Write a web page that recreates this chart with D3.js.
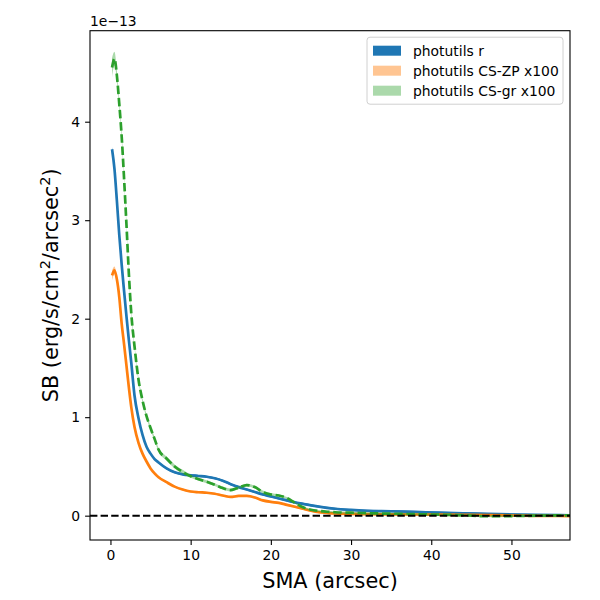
<!DOCTYPE html>
<html>
<head>
<meta charset="utf-8">
<script src="https://cdn.jsdelivr.net/npm/d3@7"></script>
<style>
  body { margin: 0; background: #fff; }
  text { font-family: "DejaVu Sans", sans-serif; }
</style>
</head>
<body>
<div id="chart"></div>
<script>
// SMA grid (arcsec) and surface brightness profiles, units of 1e-13
var sma = [0.2, 0.5, 0.8, 1.1, 1.4, 1.7, 2.0, 2.3, 2.6, 3.0, 3.5, 4.0, 4.5, 5.0, 5.5,
  6, 7, 8, 9, 10, 11, 12, 13, 14, 15, 16, 17, 18, 19, 20, 21, 22, 23, 24, 25, 26,
  27, 28, 30, 32, 35, 38, 41, 44, 47, 50, 53, 58];

var sbR = [3.72, 3.52, 3.20, 2.85, 2.55, 2.28, 2.02, 1.78, 1.55, 1.22, 0.99, 0.82, 0.70, 0.63, 0.575,
  0.54, 0.48, 0.44, 0.42, 0.41, 0.403, 0.395, 0.38, 0.355, 0.32, 0.29, 0.265, 0.24, 0.215, 0.195,
  0.175, 0.155, 0.135, 0.12, 0.105, 0.092, 0.08, 0.07, 0.058, 0.05, 0.045, 0.038, 0.03, 0.024,
  0.018, 0.012, 0.008, 0.004];
var errR = [0.02, 0.02, 0.02, 0.02, 0.02, 0.02, 0.01, 0.01, 0.01, 0.01, 0.01, 0.01, 0.01, 0.01, 0.01,
  0.01, 0.01, 0.01, 0.01, 0.01, 0.01, 0.01, 0.01, 0.01, 0.01, 0.01, 0.01, 0.01, 0.01, 0.01,
  0.01, 0.01, 0.01, 0.01, 0.01, 0.01, 0.01, 0.01, 0.01, 0.01, 0.01, 0.01, 0.01, 0.01,
  0.01, 0.01, 0.01, 0.01];

var sbZP = [2.44, 2.49, 2.40, 2.22, 1.95, 1.74, 1.52, 1.30, 1.10, 0.90, 0.74, 0.63, 0.55, 0.48, 0.43,
  0.39, 0.34, 0.295, 0.265, 0.245, 0.238, 0.233, 0.223, 0.205, 0.19, 0.20, 0.20, 0.185, 0.155, 0.14,
  0.13, 0.11, 0.09, 0.07, 0.05, 0.035, 0.028, 0.022, 0.018, 0.015, 0.013, 0.012, 0.01, 0.008,
  0.006, 0.002, -0.002, -0.004];
var errZP = [0.05, 0.04, 0.03, 0.03, 0.02, 0.02, 0.02, 0.02, 0.02, 0.015, 0.015, 0.01, 0.01, 0.01, 0.01,
  0.01, 0.01, 0.01, 0.01, 0.01, 0.01, 0.01, 0.01, 0.01, 0.01, 0.01, 0.01, 0.01, 0.01, 0.01,
  0.01, 0.01, 0.01, 0.01, 0.01, 0.01, 0.01, 0.01, 0.01, 0.01, 0.01, 0.01, 0.01, 0.01,
  0.01, 0.01, 0.01, 0.01];

var sbGR = [4.55, 4.64, 4.47, 4.18, 3.85, 3.42, 2.95, 2.45, 2.05, 1.72, 1.38, 1.17, 1.01, 0.89, 0.78,
  0.67, 0.58, 0.50, 0.445, 0.40, 0.37, 0.345, 0.315, 0.28, 0.26, 0.285, 0.31, 0.29, 0.24, 0.215,
  0.205, 0.18, 0.13, 0.085, 0.06, 0.048, 0.04, 0.035, 0.03, 0.025, 0.02, 0.015, 0.01, 0.004,
  -0.006, -0.004, 0.0, 0.005];
var errGR = [0.10, 0.07, 0.05, 0.04, 0.04, 0.03, 0.03, 0.03, 0.03, 0.02, 0.02, 0.02, 0.02, 0.02, 0.02,
  0.02, 0.02, 0.02, 0.02, 0.015, 0.015, 0.015, 0.015, 0.015, 0.015, 0.015, 0.015, 0.015, 0.015, 0.015,
  0.01, 0.01, 0.01, 0.01, 0.01, 0.01, 0.01, 0.01, 0.01, 0.01, 0.01, 0.01, 0.01, 0.01,
  0.01, 0.01, 0.01, 0.01];

var xTicks = [0, 10, 20, 30, 40, 50];
var yTicks = [0, 1, 2, 3, 4];
var legendLabels = ["photutils r", "photutils CS-ZP x100", "photutils CS-gr x100"];

var svgWidth = 600;
var svgHeight = 600;
var margin = { top: 30.7, right: 30, bottom: 60, left: 90 };
var width = svgWidth - margin.left - margin.right;
var height = svgHeight - margin.top - margin.bottom;

var svg = d3.select("#chart").append("svg")
  .attr("width", svgWidth)
  .attr("height", svgHeight);

var chartGroup = svg.append("g")
  .attr("transform", `translate(${margin.left}, ${margin.top})`);

var xScale = d3.scaleLinear().domain([-2.55, 57.3]).range([0, width]);
var yScale = d3.scaleLinear().domain([-0.247, 4.924]).range([height, 0]);

svg.append("defs").append("clipPath").attr("id", "clip")
  .append("rect").attr("width", width).attr("height", height);

var plotArea = chartGroup.append("g").attr("clip-path", "url(#clip)");

var series = [
  { vals: sbR, err: errR, color: "#1f77b4", fillOpacity: 1, dash: null },
  { vals: sbZP, err: errZP, color: "#ff7f0e", fillOpacity: 0.45, dash: null },
  { vals: sbGR, err: errGR, color: "#2ca02c", fillOpacity: 0.4, dash: "8.5,3.7" }
];

series.forEach(function(s) {
  var pts = sma.map((x, i) => ({ x: x, y: s.vals[i], e: s.err[i] }));

  var band = d3.area()
    .x(d => xScale(d.x))
    .y0(d => yScale(d.y - d.e))
    .y1(d => yScale(d.y + d.e))
    .curve(d3.curveMonotoneX);

  var line = d3.line()
    .x(d => xScale(d.x))
    .y(d => yScale(d.y))
    .curve(d3.curveMonotoneX);

  plotArea.append("path")
    .datum(pts)
    .attr("d", band)
    .attr("fill", s.color)
    .attr("fill-opacity", s.fillOpacity);

  plotArea.append("path")
    .datum(pts)
    .attr("d", line)
    .attr("fill", "none")
    .attr("stroke", s.color)
    .attr("stroke-width", 2.7)
    .attr("stroke-dasharray", s.dash);
});

// zero reference line
plotArea.append("line")
  .attr("x1", 0).attr("x2", width)
  .attr("y1", yScale(0)).attr("y2", yScale(0))
  .attr("stroke", "#000")
  .attr("stroke-width", 2)
  .attr("stroke-dasharray", "7.4,3.2");

// axes
var bottomAxis = d3.axisBottom(xScale).tickValues(xTicks).tickSize(4.9).tickPadding(4.9)
  .tickFormat(d3.format("d"));
var leftAxis = d3.axisLeft(yScale).tickValues(yTicks).tickSize(4.9).tickPadding(4.9)
  .tickFormat(d3.format("d"));

var xAxis = chartGroup.append("g")
  .attr("transform", `translate(0, ${height})`)
  .call(bottomAxis);
var yAxis = chartGroup.append("g").call(leftAxis);

[xAxis, yAxis].forEach(function(ax) {
  ax.select(".domain").remove();
  ax.selectAll("line").attr("stroke", "#000").attr("stroke-width", 1.1);
  ax.selectAll("text")
    .attr("fill", "#000")
    .style("font-size", "13.9px")
    .style("font-family", "DejaVu Sans, sans-serif");
});

// frame
chartGroup.append("rect")
  .attr("width", width).attr("height", height)
  .attr("fill", "none")
  .attr("stroke", "#000")
  .attr("stroke-width", 1.1);

// offset text
chartGroup.append("text")
  .attr("x", 0).attr("y", -5)
  .style("font-size", "13.9px")
  .text("1e\u221213");

// axis labels
svg.append("text")
  .attr("x", margin.left + width / 2)
  .attr("y", 588)
  .attr("text-anchor", "middle")
  .style("font-size", "20.8px")
  .text("SMA (arcsec)");

var yLabel = svg.append("text")
  .attr("transform", `translate(58, ${margin.top + height / 2}) rotate(-90)`)
  .attr("text-anchor", "middle")
  .style("font-size", "20.8px");
yLabel.append("tspan").text("SB (erg/s/cm");
yLabel.append("tspan").attr("dy", -8).style("font-size", "14.5px").text("2");
yLabel.append("tspan").attr("dy", 8).text("/arcsec");
yLabel.append("tspan").attr("dy", -8).style("font-size", "14.5px").text("2");
yLabel.append("tspan").attr("dy", 8).text(")");

// legend
var legend = chartGroup.append("g")
  .attr("transform", `translate(${width - 203}, 6.5)`);

legend.append("rect")
  .attr("width", 196).attr("height", 67)
  .attr("rx", 3)
  .attr("fill", "#fff")
  .attr("fill-opacity", 0.8)
  .attr("stroke", "#d0d0d0");

series.forEach(function(s, i) {
  var row = legend.append("g").attr("transform", `translate(6, ${13.5 + i * 20})`);
  row.append("rect")
    .attr("x", 0).attr("y", -5)
    .attr("width", 28).attr("height", 10)
    .attr("fill", s.color)
    .attr("fill-opacity", s.fillOpacity);
  row.append("text")
    .attr("x", 40).attr("y", 5)
    .style("font-size", "13.9px")
    .text(legendLabels[i]);
});
</script>
</body>
</html>
